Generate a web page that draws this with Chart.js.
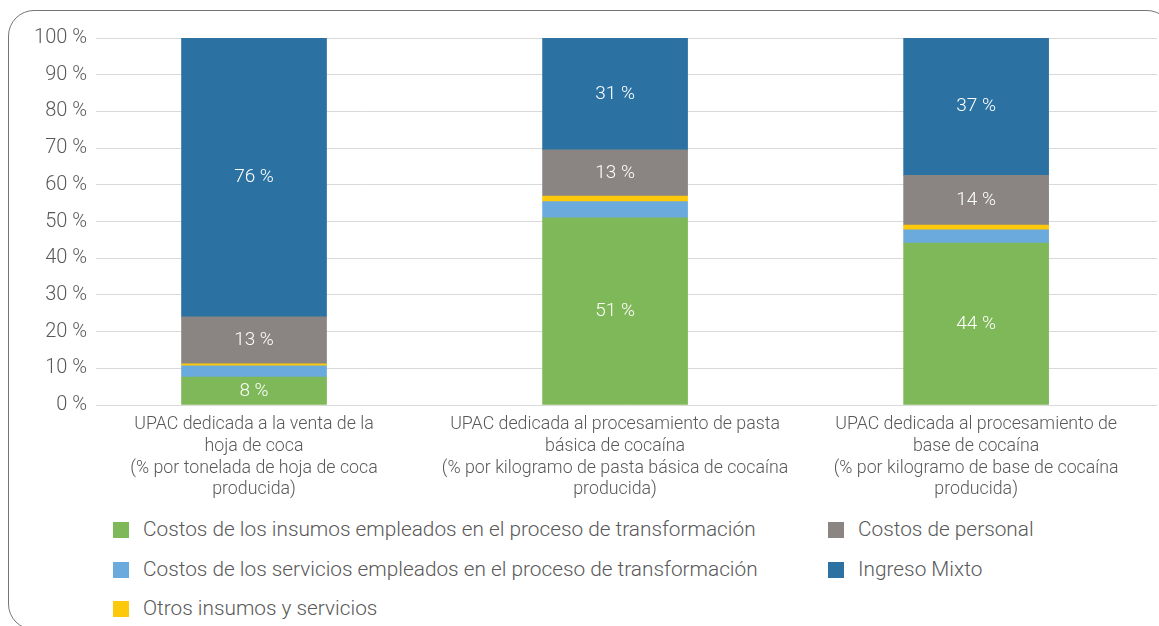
<!DOCTYPE html>
<html>
<head>
<meta charset="utf-8">
<script src="https://cdn.jsdelivr.net/npm/chart.js@4/dist/chart.umd.min.js"></script>
<style>
  body { margin: 0; width: 1159px; height: 626px; overflow: hidden; background: #fff; font-family: Roboto, "Liberation Sans", sans-serif; }
  #frame { position: absolute; left: 8px; top: 10px; width: 1165px; height: 620px; border: 1.5px solid #767676; border-radius: 26px; box-sizing: border-box; }
  #wrap { position: absolute; left: 0; top: 0; width: 1159px; height: 505px; }
  .leg { position: absolute; font-size: 20.8px; font-weight: 300; color: #595959; white-space: nowrap; line-height: 20px; }
  .leg span { display: inline-block; width: 16px; height: 16px; vertical-align: -2px; margin-right: 14px; }
</style>
</head>
<body>
<div id="frame"></div>
<div id="wrap"><canvas id="chart"></canvas></div>
<div id="legend"></div>
<script>
const categories = [
    ['UPAC dedicada a la venta de la', 'hoja de coca', '(% por tonelada de hoja de coca', 'producida)'],
    ['UPAC dedicada al procesamiento de pasta', 'básica de cocaína', '(% por kilogramo de pasta básica de cocaína', 'producida)'],
    ['UPAC dedicada al procesamiento de', 'base de cocaína', '(% por kilogramo de base de cocaína', 'producida)']
];

const seriesNames = [
    'Costos de los insumos empleados en el proceso de transformación',
    'Costos de los servicios empleados en el proceso de transformación',
    'Otros insumos y servicios',
    'Costos de personal',
    'Ingreso Mixto'
];

const insumos = [7.6, 51.0, 44.1];
const servicios = [3.1, 4.4, 3.6];
const otros = [0.5, 1.5, 1.3];
const personal = [12.8, 12.6, 13.6];
const mixto = [76.0, 30.5, 37.4];

const colors = ['#7fb858', '#6aaadd', '#fec80b', '#8a8583', '#2b72a3'];
const yTicks = [0, 10, 20, 30, 40, 50, 60, 70, 80, 90, 100];

const allSeries = [insumos, servicios, otros, personal, mixto];

const datasets = allSeries.map((vals, i) => ({
    label: seriesNames[i],
    data: vals.map((v, j) => ({ x: j, y: v })),
    backgroundColor: colors[i],
    borderWidth: 0,
    barThickness: 145
}));

// white percentage labels inside the bigger segments
const segmentLabels = {
    id: 'segmentLabels',
    afterDatasetsDraw(chart) {
        const ctx = chart.ctx;
        ctx.save();
        ctx.fillStyle = '#ffffff';
        ctx.font = '300 19px Roboto, "Liberation Sans", sans-serif';
        ctx.textAlign = 'center';
        ctx.textBaseline = 'middle';
        chart.data.datasets.forEach((ds, i) => {
            const meta = chart.getDatasetMeta(i);
            meta.data.forEach((bar, j) => {
                const v = ds.data[j].y;
                if (v < 5) return;
                const mid = (bar.y + bar.base) / 2;
                ctx.fillText(Math.round(v) + ' %', bar.x, mid);
            });
        });
        ctx.restore();
    }
};

const ctx = document.getElementById('chart').getContext('2d');
const chart = new Chart(ctx, {
    type: 'bar',
    data: { datasets: datasets },
    plugins: [segmentLabels],
    options: {
        responsive: true,
        maintainAspectRatio: false,
        animation: false,
        layout: { padding: { top: 38, right: 2, left: 0, bottom: 0 } },
        plugins: {
            legend: { display: false },
            tooltip: { enabled: false }
        },
        scales: {
            x: {
                type: 'linear',
                stacked: true,
                offset: false,
                min: -0.4377,
                max: 2.501,
                grid: { display: false },
                border: { display: false },
                afterBuildTicks: scale => {
                    scale.ticks = categories.map((c, i) => ({ value: i }));
                },
                afterFit: scale => { scale.height = 100; },
                ticks: {
                    autoSkip: false,
                    maxRotation: 0,
                    padding: 1,
                    color: '#595959',
                    font: { family: 'Roboto, "Liberation Sans", sans-serif', size: 17.8, weight: 300, lineHeight: 1.22 },
                    callback: v => categories[v]
                }
            },
            y: {
                stacked: true,
                min: 0,
                max: 100,
                grid: { color: '#d9d9d9', drawTicks: false },
                border: { display: false },
                afterBuildTicks: scale => {
                    scale.ticks = yTicks.map(v => ({ value: v }));
                },
                afterFit: scale => { scale.width = 96; },
                ticks: {
                    padding: 9,
                    color: '#595959',
                    font: { family: 'Roboto, "Liberation Sans", sans-serif', size: 20, weight: 300 },
                    callback: v => v + ' %'
                }
            }
        }
    }
});

// legend in two columns, built from the datasets
const legendCols = [[0, 1, 2], [3, 4]];
const colLeft = [113, 828];
const rowTop = [519, 559, 598];
const legendEl = document.getElementById('legend');
legendCols.forEach((col, c) => {
    col.forEach((idx, r) => {
        const item = document.createElement('div');
        item.className = 'leg';
        item.style.left = colLeft[c] + 'px';
        item.style.top = rowTop[r] + 'px';
        const sw = document.createElement('span');
        sw.style.background = chart.data.datasets[idx].backgroundColor;
        item.appendChild(sw);
        item.appendChild(document.createTextNode(chart.data.datasets[idx].label));
        legendEl.appendChild(item);
    });
});
</script>
</body>
</html>
